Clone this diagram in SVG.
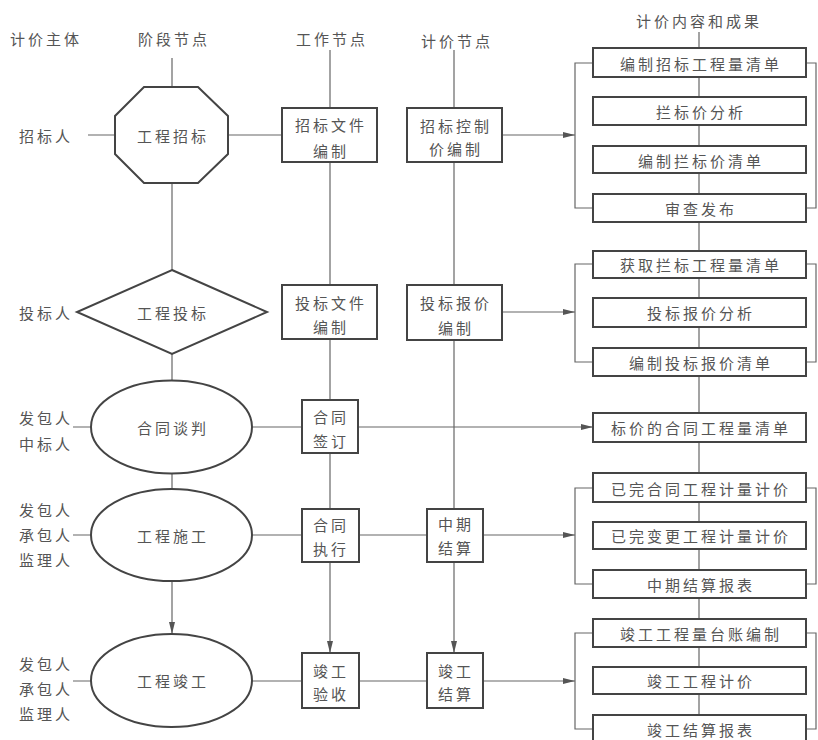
<svg xmlns="http://www.w3.org/2000/svg" width="818" height="740" viewBox="0 0 818 740">
<style>
text{font-family:"Noto Sans CJK SC","Noto Sans",sans-serif;font-size:15px;fill:#555;letter-spacing:3px;text-anchor:middle;dominant-baseline:central}
.node{fill:#fff;stroke:#444;stroke-width:2}
.ln{fill:none;stroke:#666;stroke-width:1.2}
.ar{fill:none;stroke:#666;stroke-width:1.2;marker-end:url(#ah)}
</style>
<defs>
<marker id="ah" viewBox="0 0 12 6" refX="12" refY="3" markerWidth="12" markerHeight="6" markerUnits="userSpaceOnUse" orient="auto">
<path d="M0,0 L12,3 L0,6 Z" fill="#555"/>
</marker>
</defs>
<rect width="818" height="740" fill="#fff"/>
<g id="headers">
<text x="46" y="38">计价主体</text>
<text x="174" y="38">阶段节点</text>
<text x="332" y="38">工作节点</text>
<text x="457" y="40">计价节点</text>
<text x="699" y="20">计价内容和成果</text>
</g>
<g id="subjects">
<text x="46" y="135">招标人</text>
<text x="46" y="312">投标人</text>
<text x="46" y="417">发包人</text>
<text x="46" y="443">中标人</text>
<text x="46" y="509">发包人</text>
<text x="46" y="534">承包人</text>
<text x="46" y="559">监理人</text>
<text x="46" y="663">发包人</text>
<text x="46" y="688">承包人</text>
<text x="46" y="713">监理人</text>
</g>
<g id="connectors">
<path class="ln" d="M172,58 V581"/>
<path class="ar" d="M172,581 V634"/>
<path class="ln" d="M330,50 V509"/>
<path class="ar" d="M330,562 V653"/>
<path class="ln" d="M454,50 V509"/>
<path class="ar" d="M454,562 V653"/>
<path class="ln" d="M699,32 V740"/>
<path class="ln" d="M88,135 H115 M228,135 H282"/>
<path class="ln" d="M73,427 H91 M73,535 H91 M73,681 H91"/>
<path class="ln" d="M252,427 H302"/>
<path class="ar" d="M358,427 H593"/>
<path class="ln" d="M252,535 H302 M359,535 H427"/>
<path class="ln" d="M252,681 H302 M359,681 H427"/>
<path class="ar" d="M502,135 H575"/>
<path class="ar" d="M502,312 H575"/>
<path class="ar" d="M483,535 H575"/>
<path class="ar" d="M483,681 H575"/>
<path class="ln" d="M593,63 H575 V208 H593 M593,264 H575 V362 H593 M593,488 H575 V584 H593 M593,633 H575 V729 H593"/>
<path class="ln" d="M806,63 H816 V208 H806 M806,264 H816 V362 H806 M806,488 H816 V584 H806 M806,633 H816 V729 H806"/>
</g>
<g id="n-zbgc">
<polygon class="node" points="144,87 198,87 228,116 228,154 198,183 144,183 115,154 115,116"/>
<text x="173" y="135">工程招标</text>
</g>
<g id="n-tbgc">
<polygon class="node" points="172,270 267,312 172,354 77,312"/>
<text x="173" y="312">工程投标</text>
</g>
<g id="n-htft">
<ellipse class="node" cx="171.5" cy="427" rx="80.5" ry="46.5"/>
<text x="173" y="427">合同谈判</text>
</g>
<g id="n-gcsg">
<ellipse class="node" cx="171.5" cy="535" rx="80.5" ry="46"/>
<text x="173" y="535">工程施工</text>
</g>
<g id="n-gcjg">
<ellipse class="node" cx="171.5" cy="680.5" rx="80.5" ry="46.5"/>
<text x="173" y="680">工程竣工</text>
</g>
<g id="n-zbwj">
<rect class="node" x="282" y="108" width="95" height="54"/>
<text x="331" y="124">招标文件</text>
<text x="331" y="150">编制</text>
</g>
<g id="n-tbwj">
<rect class="node" x="282" y="285" width="95" height="54"/>
<text x="331" y="302">投标文件</text>
<text x="331" y="326">编制</text>
</g>
<g id="n-htqd">
<rect class="node" x="302" y="400" width="56" height="53"/>
<text x="331" y="416">合同</text>
<text x="331" y="440">签订</text>
</g>
<g id="n-htzx">
<rect class="node" x="302" y="509" width="57" height="53"/>
<text x="331" y="524">合同</text>
<text x="331" y="548">执行</text>
</g>
<g id="n-jgys">
<rect class="node" x="302" y="653" width="57" height="55"/>
<text x="331" y="670">竣工</text>
<text x="331" y="693">验收</text>
</g>
<g id="n-zbkz">
<rect class="node" x="407" y="108" width="95" height="54"/>
<text x="456" y="125">招标控制</text>
<text x="456" y="148">价编制</text>
</g>
<g id="n-tbbj">
<rect class="node" x="407" y="285" width="95" height="55"/>
<text x="456" y="302">投标报价</text>
<text x="456" y="327">编制</text>
</g>
<g id="n-zqjs">
<rect class="node" x="427" y="509" width="56" height="53"/>
<text x="456" y="523">中期</text>
<text x="456" y="547">结算</text>
</g>
<g id="n-jgjs">
<rect class="node" x="427" y="653" width="56" height="55"/>
<text x="456" y="670">竣工</text>
<text x="456" y="693">结算</text>
</g>
<g id="n-r1"><rect class="node" x="593" y="48" width="213" height="29"/><text x="701" y="63">编制招标工程量清单</text></g>
<g id="n-r2"><rect class="node" x="593" y="97" width="213" height="28"/><text x="701" y="111">拦标价分析</text></g>
<g id="n-r3"><rect class="node" x="593" y="146" width="213" height="27"/><text x="701" y="160">编制拦标价清单</text></g>
<g id="n-r4"><rect class="node" x="593" y="194" width="213" height="28"/><text x="701" y="208">审查发布</text></g>
<g id="n-r5"><rect class="node" x="593" y="251" width="213" height="27"/><text x="701" y="264">获取拦标工程量清单</text></g>
<g id="n-r6"><rect class="node" x="593" y="298" width="213" height="29"/><text x="701" y="312">投标报价分析</text></g>
<g id="n-r7"><rect class="node" x="593" y="348" width="213" height="28"/><text x="701" y="362">编制投标报价清单</text></g>
<g id="n-r8"><rect class="node" x="593" y="413" width="213" height="29"/><text x="701" y="427">标价的合同工程量清单</text></g>
<g id="n-r9"><rect class="node" x="593" y="473" width="213" height="29"/><text x="701" y="488">已完合同工程计量计价</text></g>
<g id="n-r10"><rect class="node" x="593" y="522" width="213" height="27"/><text x="701" y="535">已完变更工程计量计价</text></g>
<g id="n-r11"><rect class="node" x="593" y="570" width="213" height="28"/><text x="701" y="584">中期结算报表</text></g>
<g id="n-r12"><rect class="node" x="593" y="619" width="213" height="28"/><text x="701" y="633">竣工工程量台账编制</text></g>
<g id="n-r13"><rect class="node" x="593" y="667" width="213" height="27"/><text x="701" y="680">竣工工程计价</text></g>
<g id="n-r14"><rect class="node" x="593" y="715" width="213" height="27"/><text x="701" y="729">竣工结算报表</text></g>
</svg>
